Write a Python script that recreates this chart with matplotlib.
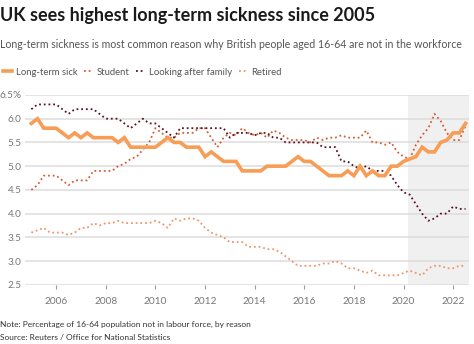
import matplotlib.pyplot as plt
import numpy as np
import pandas as pd

plt.rcParams['font.family'] = ['Lato', 'DejaVu Sans']

# quarterly readings, 2005 Q1 .. 2022 Q3 (% of 16-64 population)
quarters = pd.period_range('2005Q1', '2022Q3', freq='Q')
long_term_sick = [5.9, 6.0, 5.8, 5.8, 5.8, 5.7, 5.6, 5.7, 5.6, 5.7, 5.6, 5.6,
                  5.6, 5.6, 5.5, 5.6, 5.4, 5.4, 5.4, 5.4, 5.4, 5.5, 5.6, 5.5,
                  5.5, 5.4, 5.4, 5.4, 5.2, 5.3, 5.2, 5.1, 5.1, 5.1, 4.9, 4.9,
                  4.9, 4.9, 5.0, 5.0, 5.0, 5.0, 5.1, 5.2, 5.1, 5.1, 5.0, 4.9,
                  4.8, 4.8, 4.8, 4.9, 4.8, 5.0, 4.8, 4.9, 4.8, 4.8, 5.0, 5.0,
                  5.1, 5.15, 5.2, 5.4, 5.3, 5.3, 5.5, 5.55, 5.7, 5.7, 5.9]
student = [4.5, 4.6, 4.8, 4.8, 4.8, 4.7, 4.6, 4.7, 4.7, 4.7, 4.9, 4.9,
           4.9, 4.9, 5.0, 5.05, 5.15, 5.2, 5.35, 5.5, 5.8, 5.7, 5.6, 5.6,
           5.7, 5.7, 5.7, 5.8, 5.8, 5.6, 5.4, 5.6, 5.7, 5.65, 5.8, 5.7,
           5.65, 5.7, 5.6, 5.75, 5.7, 5.6, 5.55, 5.55, 5.55, 5.5, 5.6, 5.55,
           5.6, 5.6, 5.65, 5.6, 5.6, 5.6, 5.75, 5.5, 5.5, 5.45, 5.5, 5.3,
           5.2, 5.15, 5.45, 5.65, 5.8, 6.1, 5.95, 5.7, 5.55, 5.55, 5.85]
looking_after_family = [6.2, 6.3, 6.3, 6.3, 6.3, 6.2, 6.1, 6.2, 6.2, 6.2, 6.2, 6.1,
                        6.0, 6.0, 6.0, 5.9, 5.8, 5.9, 6.0, 5.9, 5.9, 5.8, 5.7, 5.6,
                        5.8, 5.8, 5.8, 5.8, 5.8, 5.8, 5.8, 5.8, 5.6, 5.7, 5.7, 5.7,
                        5.65, 5.7, 5.7, 5.6, 5.6, 5.5, 5.5, 5.5, 5.5, 5.5, 5.5, 5.4,
                        5.4, 5.4, 5.1, 5.1, 5.0, 4.95, 5.0, 4.9, 4.9, 4.9, 4.8, 4.6,
                        4.45, 4.4, 4.2, 4.0, 3.85, 3.9, 4.0, 4.0, 4.15, 4.1, 4.1]
retired = [3.6, 3.65, 3.7, 3.6, 3.6, 3.6, 3.55, 3.6, 3.7, 3.7, 3.8, 3.75,
           3.8, 3.8, 3.85, 3.8, 3.8, 3.8, 3.8, 3.8, 3.85, 3.8, 3.7, 3.9,
           3.85, 3.9, 3.9, 3.85, 3.7, 3.6, 3.55, 3.5, 3.4, 3.4, 3.4, 3.3,
           3.3, 3.3, 3.25, 3.25, 3.2, 3.1, 3.0, 2.9, 2.9, 2.9, 2.9, 2.95,
           2.95, 3.0, 2.95, 2.85, 2.85, 2.8, 2.75, 2.8, 2.7, 2.7, 2.7, 2.7,
           2.75, 2.8, 2.75, 2.7, 2.85, 2.9, 2.9, 2.85, 2.85, 2.9, 2.9]

year = quarters.year + (quarters.quarter - 1) / 4
shade_start = 2020.17
yticks = [2.5, 3.0, 3.5, 4.0, 4.5, 5.0, 5.5, 6.0, 6.5]
ytick_labels = ['2.5', '3.0', '3.5', '4.0', '4.5', '5.0', '5.5', '6.0', '6.5%']
xticks = [2006, 2008, 2010, 2012, 2014, 2016, 2018, 2020, 2022]

fig = plt.figure(figsize=(4.74, 3.44), dpi=100)
ax = fig.add_axes([0.053, 0.172, 0.937, 0.552])

ax.axvspan(shade_start, 2022.65, color='#f0f0f0', zorder=0, lw=0)
dot = (0, (1, 1.6))
ax.plot(year, retired, color='#f0956a', lw=1.3, ls=dot, label='Retired', zorder=2)
ax.plot(year, student, color='#d35f35', lw=1.3, ls=dot, label='Student', zorder=3)
ax.plot(year, looking_after_family, color='#5e1220', lw=1.3, ls=dot,
        label='Looking after family', zorder=3)
ax.plot(year, long_term_sick, color='#f79d55', lw=2.6, label='Long-term sick',
        zorder=4, solid_joinstyle='miter')

ax.set_xlim(2004.75, 2022.65)
ax.set_ylim(2.5, 6.5)
ax.set_yticks(yticks)
ax.set_yticklabels(ytick_labels)
ax.set_xticks(xticks)
ax.grid(axis='y', color='#dcdcdc', lw=1.1)
ax.set_axisbelow(True)
for s in ax.spines.values():
    s.set_visible(False)
ax.tick_params(axis='y', length=0, pad=2.5, labelsize=7.2, labelcolor='#777777')
ax.tick_params(axis='x', length=3, width=0.8, color='#999999', pad=6,
               labelsize=7.3, labelcolor='#777777')
for lab in ax.get_yticklabels():
    lab.set_horizontalalignment('right')

handles, labels = ax.get_legend_handles_labels()
order = [3, 1, 2, 0]
fig.legend([handles[i] for i in order], [labels[i] for i in order],
           loc='center left', bbox_to_anchor=(-0.012, 0.79), ncol=4, frameon=False,
           fontsize=6.8, handlelength=1.0, handletextpad=0.35, columnspacing=0.7,
           labelcolor='#555555')

fig.text(0.0, 0.955, 'UK sees highest long-term sickness since 2005', fontsize=13,
         fontweight='bold', color='#1a1a1a', va='center')
fig.text(0.0, 0.872, 'Long-term sickness is most common reason why British people aged 16-64 are not in the workforce',
         fontsize=7.6, color='#555555', va='center')
fig.text(0.0, 0.058, 'Note: Percentage of 16-64 population not in labour force, by reason',
         fontsize=6.0, color='#333333', va='center')
fig.text(0.0, 0.018, 'Source: Reuters / Office for National Statistics',
         fontsize=6.0, color='#333333', va='center')

fig.savefig('out.png', dpi=100)
